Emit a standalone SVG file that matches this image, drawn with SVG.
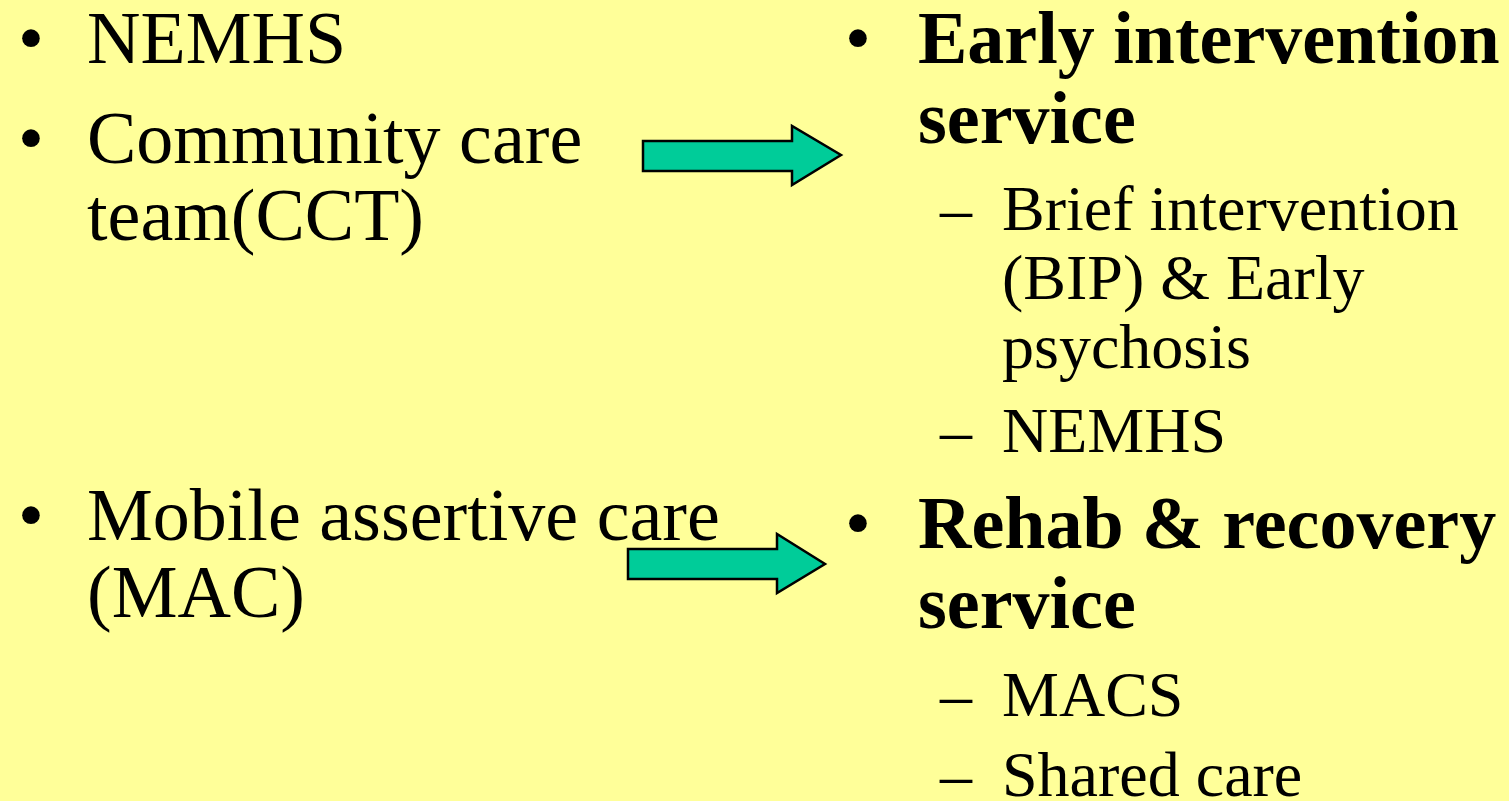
<svg xmlns="http://www.w3.org/2000/svg" width="1509" height="801" viewBox="0 0 1509 801">
<style>
text{font-family:"Liberation Serif","Times New Roman",serif;fill:#000}
.l1{font-size:74px}
.b{font-weight:bold}
.l2{font-size:64px}
.arrow{fill:#00CC99;stroke:#000;stroke-width:2.5;stroke-linejoin:miter}
</style>
<rect x="0" y="0" width="1509" height="801" fill="#FFFF99"/>
<g id="left-top">
<text class="l1" x="18" y="63">•</text>
<text class="l1" x="87" y="63">NEMHS</text>
<text class="l1" x="18" y="163">•</text>
<text class="l1" x="87" y="163">Community care</text>
<text class="l1" x="87" y="240">team(CCT)</text>
</g>
<g id="left-bottom">
<text class="l1" x="18" y="540">•</text>
<text class="l1" x="87" y="540">Mobile assertive care</text>
<text class="l1" x="87" y="617">(MAC)</text>
</g>
<g id="right-top">
<text class="l1" x="845" y="63">•</text>
<text class="l1 b" x="918" y="63">Early intervention</text>
<text class="l1 b" x="918" y="143">service</text>
<text class="l2" x="940" y="230">–</text>
<text class="l2" x="1002" y="230">Brief intervention</text>
<text class="l2" x="1002" y="299">(BIP) &amp; Early</text>
<text class="l2" x="1002" y="368">psychosis</text>
<text class="l2" x="940" y="452">–</text>
<text class="l2" x="1002" y="452">NEMHS</text>
</g>
<g id="right-bottom">
<text class="l1" x="845" y="548">•</text>
<text class="l1 b" x="918" y="548">Rehab &amp; recovery</text>
<text class="l1 b" x="918" y="628">service</text>
<text class="l2" x="940" y="716">–</text>
<text class="l2" x="1002" y="716">MACS</text>
<text class="l2" x="940" y="796">–</text>
<text class="l2" x="1002" y="796">Shared care</text>
</g>
<g id="connectors">
<polygon class="arrow" points="643,141 792,141 792,126 841,155 792,185 792,171 643,171"/>
<polygon class="arrow" points="628,549 777,549 777,534 825,564 777,593 777,579 628,579"/>
</g>
</svg>
